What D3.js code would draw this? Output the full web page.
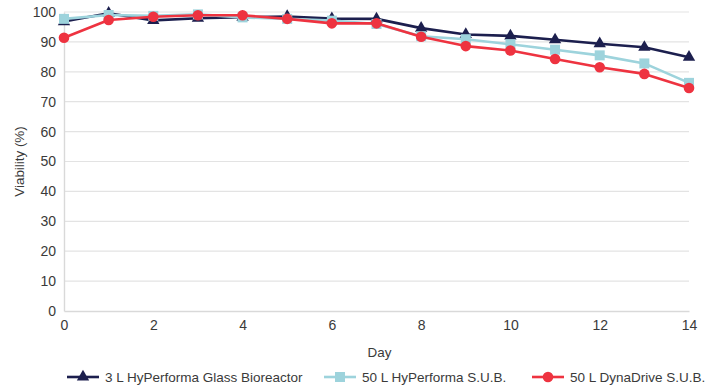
<!DOCTYPE html>
<html>
<head>
<meta charset="utf-8">
<script src="https://cdn.jsdelivr.net/npm/d3@7"></script>
<style>
  body { margin: 0; background: #fff; }
  svg { display: block; font-family: "Liberation Sans", Arial, sans-serif; }
</style>
</head>
<body>
<svg id="chart" width="716" height="387"></svg>
<script>
// Culture viability over 14 days
const days = [0, 1, 2, 3, 4, 5, 6, 7, 8, 9, 10, 11, 12, 13, 14];
const glass3L = [96.8, 99.6, 97.2, 97.9, 98.3, 98.5, 97.8, 97.7, 94.6, 92.5, 92.0, 90.7, 89.4, 88.2, 84.9];
const hyperforma50L = [97.7, 99.0, 98.7, 99.2, 98.2, 97.7, 97.1, 96.0, 91.9, 90.9, 89.2, 87.4, 85.5, 82.8, 76.3];
const dynadrive50L = [91.4, 97.3, 98.4, 98.9, 98.9, 97.7, 96.2, 96.2, 91.7, 88.6, 87.1, 84.3, 81.5, 79.3, 74.6];
const seriesNames = ["3 L HyPerforma Glass Bioreactor", "50 L HyPerforma S.U.B.", "50 L DynaDrive S.U.B."];
const xTicks = [0, 2, 4, 6, 8, 10, 12, 14];
const yTicks = [0, 10, 20, 30, 40, 50, 60, 70, 80, 90, 100];

const series = [
  { name: seriesNames[0], values: glass3L, color: "#1c1f4e", marker: "triangle" },
  { name: seriesNames[1], values: hyperforma50L, color: "#9dd3dc", marker: "square" },
  { name: seriesNames[2], values: dynadrive50L, color: "#ee3340", marker: "circle" }
];

const svg = d3.select("#chart");
const margin = { left: 64, right: 27, top: 12, bottom: 76 };
const W = 716, H = 387;

const x = d3.scaleLinear().domain([0, 14]).range([margin.left, W - margin.right]);
const y = d3.scaleLinear().domain([0, 100]).range([H - margin.bottom, margin.top]);

// Horizontal gridlines
svg.append("g")
  .selectAll("line")
  .data(yTicks.filter(d => d > 0))
  .join("line")
  .attr("x1", x(0)).attr("x2", x(14))
  .attr("y1", d => y(d)).attr("y2", d => y(d))
  .attr("stroke", "#e3e3e3").attr("stroke-width", 1.2);

// Axes
const yAxis = svg.append("g")
  .attr("transform", `translate(${x(0)},0)`)
  .call(d3.axisLeft(y).tickValues(yTicks).tickSize(0).tickPadding(8));
const xAxis = svg.append("g")
  .attr("transform", `translate(0,${y(0)})`)
  .call(d3.axisBottom(x).tickValues(xTicks).tickSize(0).tickPadding(9));
[yAxis, xAxis].forEach(g => {
  g.select(".domain").attr("stroke", "#d9d9d9").attr("stroke-width", 1.4);
  g.selectAll("text").attr("font-size", 14).attr("fill", "#3a3a3a")
    .attr("font-family", "'Liberation Sans', Arial, sans-serif");
});

// Axis titles
svg.append("text")
  .attr("x", (x(0) + x(14)) / 2 + 3).attr("y", 357)
  .attr("text-anchor", "middle").attr("font-size", 13.4).attr("fill", "#3a3a3a")
  .text("Day");
svg.append("text")
  .attr("transform", `translate(24,${(y(0) + y(100)) / 2}) rotate(-90)`)
  .attr("text-anchor", "middle").attr("font-size", 13.4).attr("fill", "#3a3a3a")
  .text("Viability (%)");

const line = d3.line().x((d, i) => x(days[i])).y(d => y(d));

function drawMarker(g, kind, color, cx, cy) {
  if (kind === "triangle") {
    g.append("path")
      .attr("d", d3.symbol().type(d3.symbolTriangle).size(66)())
      .attr("transform", `translate(${cx},${cy})`)
      .attr("fill", color);
  } else if (kind === "square") {
    g.append("rect")
      .attr("x", cx - 5).attr("y", cy - 5).attr("width", 10).attr("height", 10)
      .attr("fill", color);
  } else {
    g.append("circle").attr("cx", cx).attr("cy", cy).attr("r", 5.3).attr("fill", color);
  }
}

series.forEach(s => {
  const g = svg.append("g");
  g.append("path")
    .datum(s.values)
    .attr("d", line)
    .attr("fill", "none")
    .attr("stroke", s.color)
    .attr("stroke-width", 2.6)
    .attr("stroke-linejoin", "round");
  s.values.forEach((v, i) => drawMarker(g, s.marker, s.color, x(days[i]), y(v)));
});

// Legend
const legendY = 377;
const legendX = [67, 324, 532];
series.forEach((s, i) => {
  const g = svg.append("g");
  g.append("line")
    .attr("x1", legendX[i]).attr("x2", legendX[i] + 32)
    .attr("y1", legendY).attr("y2", legendY)
    .attr("stroke", s.color).attr("stroke-width", 2.6);
  drawMarker(g, s.marker, s.color, legendX[i] + 16, legendY);
  g.append("text")
    .attr("x", legendX[i] + 38).attr("y", legendY + 5)
    .attr("font-size", 13.5).attr("fill", "#3a3a3a")
    .text(s.name);
});
</script>
</body>
</html>
